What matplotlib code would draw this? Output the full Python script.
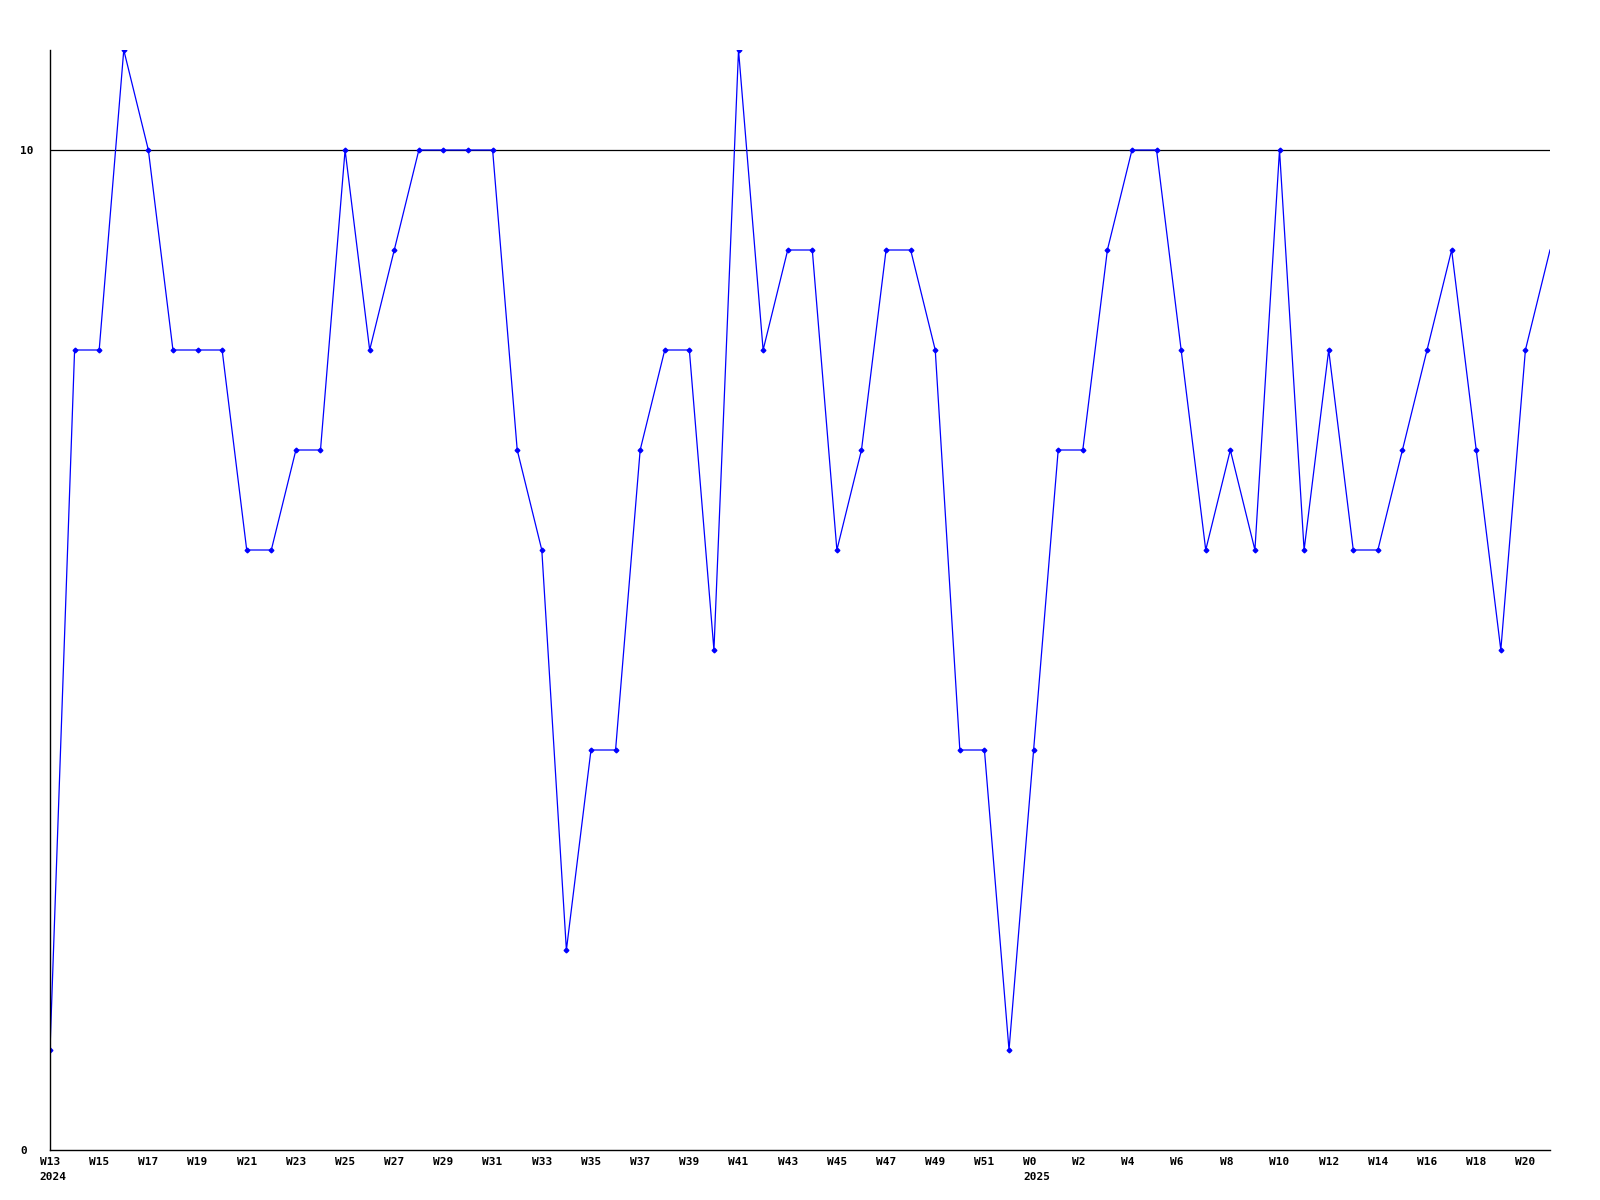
import matplotlib
matplotlib.use("Agg")
import matplotlib.pyplot as plt
import matplotlib.transforms as mtransforms

# Weekly values, W13 2024 .. W21 2025 (index = week position)
values = [1, 8, 8, 11, 10, 8, 8, 8, 6, 6,
          7, 7, 10, 8, 9, 10, 10, 10, 10, 7,
          6, 2, 4, 4, 7, 8, 8, 5, 11, 8,
          9, 9, 6, 7, 9, 9, 8, 4, 4, 1,
          4, 7, 7, 9, 10, 10, 8, 6, 7, 6,
          10, 6, 8, 6, 6, 7, 8, 9, 7, 5,
          8, 9]

tick_pos = list(range(0, 61, 2))
tick_labels = ["W13", "W15", "W17", "W19", "W21", "W23", "W25", "W27", "W29", "W31",
               "W33", "W35", "W37", "W39", "W41", "W43", "W45", "W47", "W49", "W51",
               "W0", "W2", "W4", "W6", "W8", "W10", "W12", "W14", "W16", "W18", "W20"]
year_pos = [0, 40]
year_labels = ["2024", "2025"]
ref_value = 10

font = dict(family="DejaVu Sans Mono", fontsize=8, fontweight="bold")

fig = plt.figure(figsize=(16, 12), dpi=100)
ax = fig.add_axes([50 / 1600, 50 / 1200, 1500 / 1600, 1100 / 1200])

x = list(range(len(values)))
ax.plot(x, values, color="#0000FF", linewidth=0.9, marker="D", markersize=2.4,
        markevery=list(range(len(values) - 1)), clip_on=True)
ax.axhline(ref_value, color="black", linewidth=0.9, zorder=1)

ax.set_xlim(0, len(values) - 1)
ax.set_ylim(0, 11)

for s in ["top", "right"]:
    ax.spines[s].set_visible(False)
for s in ["left", "bottom"]:
    ax.spines[s].set_linewidth(1.0)
    ax.spines[s].set_color("black")

ax.set_xticks(tick_pos)
ax.set_xticklabels(tick_labels, **font)
ax.tick_params(axis="x", length=0, pad=5)
shift = mtransforms.ScaledTranslation(-4 / 100, 0, fig.dpi_scale_trans)
for lab in ax.get_xticklabels():
    if len(lab.get_text()) == 2:
        lab.set_transform(lab.get_transform() + shift)

ax.set_yticks([0, 10])
ax.set_yticklabels(["0", "10"], **font)
ax.tick_params(axis="y", length=0, pad=21.5)
for lab in ax.get_yticklabels():
    lab.set_horizontalalignment("left")

trans = mtransforms.blended_transform_factory(ax.transData, ax.transAxes)
for p, lab in zip(year_pos, year_labels):
    ax.annotate(lab, xy=(p, 0), xycoords=trans, xytext=(-7.4, -16),
                textcoords="offset points", ha="left", va="top",
                annotation_clip=False, **font)

fig.savefig("out.png", dpi=100)
